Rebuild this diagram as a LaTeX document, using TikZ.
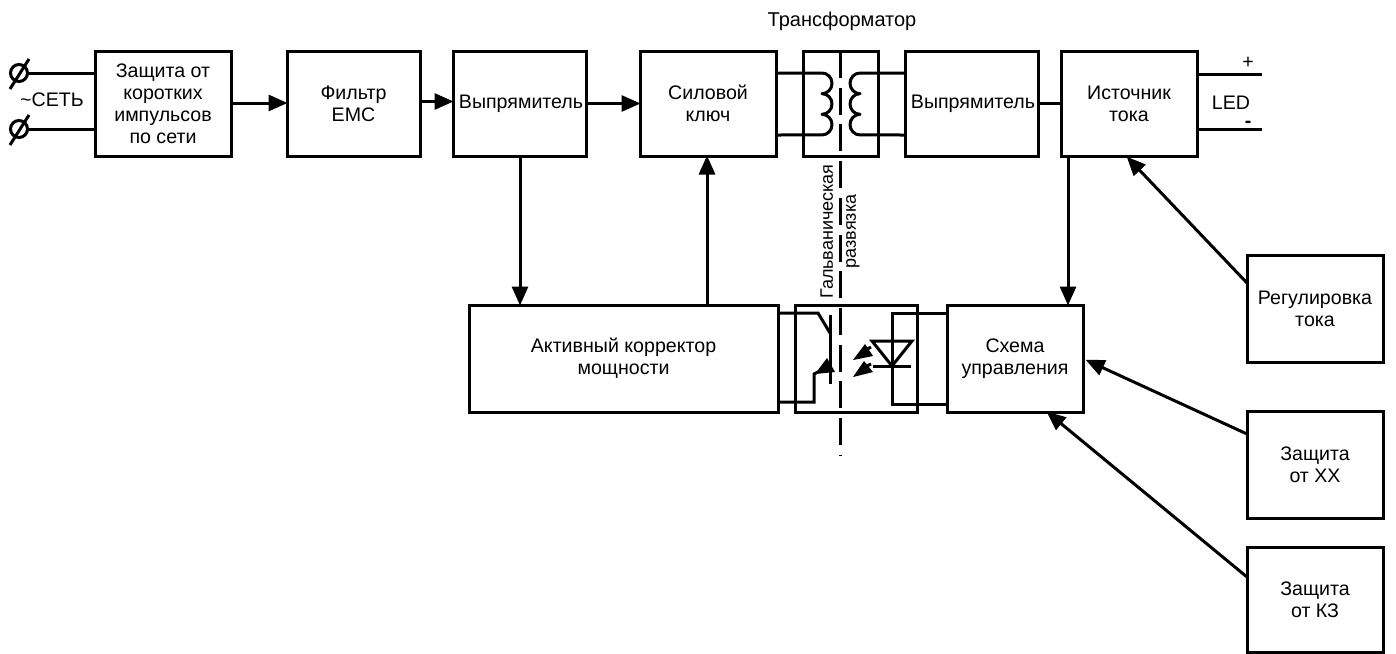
\documentclass[tikz,border=0pt]{standalone}
\usepackage{fontspec}
\setmainfont{Liberation Sans}
\usetikzlibrary{arrows.meta,calc}
\tikzset{
  x=1pt,y=-1pt,
  wire/.style={line width=3pt,line cap=butt},
  arr/.style={wire,-{Triangle[length=19pt,width=16pt]},shorten >=-0.5pt},
  box/.style={draw,line width=3pt,outer sep=0pt,inner sep=0pt,align=center,
     font=\fontsize{19.6}{22}\selectfont},
  lbl/.style={inner sep=0pt,outer sep=0pt,font=\fontsize{19.6}{22}\selectfont,align=center},
  solid fill/.style={fill=black,draw=none}
}
\newcommand{\bx}[7]{\node[box,minimum width=#3-#2,minimum height=#5-#4] (#1) at ({(#2+#3)/2},{(#4+#5)/2}) {#6};}
\begin{document}
\begin{tikzpicture}
\useasboundingbox (0,0) rectangle (1396,653);
\bx{prot}{95}{231}{51}{156}{Защита от\\коротких\\импульсов\\по сети}{}
\bx{emc}{287}{420}{51}{156}{Фильтр\\EMC}{}
\bx{rect}{453}{586}{51}{156}{\hspace*{3pt}Выпрямитель}{}
\bx{sw}{640}{776}{51}{156}{Силовой\\ключ}{}
\bx{tr}{803}{878}{51}{156}{}{}
\bx{rectb}{905}{1038}{51}{156}{\hspace*{3pt}Выпрямитель}{}
\bx{src}{1061}{1197}{51}{156}{Источник\\тока}{}
\bx{pfc}{469}{778}{305}{412}{Активный корректор\\мощности}{}
\bx{opto}{795}{917}{305}{412}{}{}
\bx{ctl}{947}{1083}{305}{412}{Схема\\управления}{}
\bx{reg}{1247}{1383}{255}{362}{Регулировка\\тока}{}
\bx{xx}{1247}{1383}{411}{518}{Защита\\от ХХ}{}
\bx{kz}{1247}{1383}{547}{652}{Защита\\от КЗ}{}

% mains terminals
\node[draw,circle,line width=3pt,minimum size=17pt,inner sep=0pt,outer sep=0pt] (ta) at (19,73) {};
\node[draw,circle,line width=3pt,minimum size=17pt,inner sep=0pt,outer sep=0pt] (tb) at (19,129) {};
\draw[wire] (10,89) -- (29,59);
\draw[wire] (10,145) -- (29,115);
\draw[wire] (ta.east) -- (ta.east -| prot.west);
\draw[wire] (tb.east) -- (tb.east -| prot.west);
\node[lbl] (mains) at (52,100) {\char"007E СЕТЬ};

% main chain
\draw[arr] ([yshift=0.5pt]prot.east) -- ([yshift=0.5pt]emc.west);
\draw[arr] ([yshift=2pt]emc.east) -- ([yshift=2pt]rect.west);
\draw[arr] (rect.east) -- (sw.west);
\draw[wire] (rectb.east) -- (src.west);
\draw[arr] (rect.south -| 520,0) -- (pfc.north -| 520,0);
\draw[arr] (pfc.north -| 707,0) -- (sw.south -| 707,0);
\draw[arr] (src.south -| 1068,0) -- (ctl.north -| 1068,0);
\draw[arr] ($(reg.north west)+(0,28)$) -- ($(src.south west)+(66,1)$);
\draw[arr] ($(xx.north west)+(0,23)$) -- ($(ctl.north east)+(3,55)$);
\draw[arr] ($(kz.north west)+(0,30)$) -- ($(ctl.south west)+(100,0)$);

% transformer
\draw[wire,line join=round] (sw.east |- 0,73) -- (822,73)
  arc[start angle=90,end angle=-90,x radius=10,y radius=-10.33]
  arc[start angle=90,end angle=-90,x radius=10,y radius=-10.33]
  arc[start angle=90,end angle=-90,x radius=10,y radius=-10.33]
  -- (sw.east |- 0,135);
\draw[wire,line join=round] (rectb.west |- 0,73) -- (860,73)
  arc[start angle=90,end angle=270,x radius=10,y radius=-10.33]
  arc[start angle=90,end angle=270,x radius=10,y radius=-10.33]
  arc[start angle=90,end angle=270,x radius=10,y radius=-10.33]
  -- (rectb.west |- 0,135);
\node[lbl,font=\fontsize{20}{22}\selectfont] (trname) at (842,21) {Трансформатор};

% isolation barrier
\coordinate (ba) at (840,51);
\coordinate (bb) at (840,456);
\draw[line width=3pt,dash pattern=on 27pt off 9.7pt] (ba) -- (bb);
\node[lbl,rotate=90,font=\fontsize{18}{23}\selectfont] (iso) at (840,231.5) {Гальваническая\\развязка};

% optocoupler: transistor side
\draw[wire] (pfc.east |- 0,313) -- (818,313) -- (830,333);
\draw[wire] (830,315) -- (830,384);
\draw[wire] (pfc.east |- 0,402) -- (814,402) -- (814,374) -- (830,366);
\fill[solid fill] (815,374) -- (827,358) -- (835,372) -- cycle;
% optocoupler: LED side
\draw[wire] (ctl.west |- 0,313) -- (892,313) -- (892,404) -- (ctl.west |- 0,404);
\draw[wire,line join=miter] (872,341) -- (912,341) -- (892,366) -- cycle;
\draw[wire] (873,366) -- (911,366);
\fill[solid fill] (853,360) -- (865,344) -- (873,356) -- cycle;
\fill[solid fill] (853,377) -- (864,361) -- (873,372) -- cycle;
\draw[wire] (864,351) -- (871,347);
\draw[wire] (863,368) -- (871,364);

% outputs
\coordinate (oa) at (1262,74);
\coordinate (ob) at (1262,129);
\draw[wire] (src.east |- oa) -- (oa);
\draw[wire] (src.east |- ob) -- (ob);
\node[lbl] (plus) at (1248,63) {+};
\node[lbl,font=\bfseries\fontsize{19.6}{22}\selectfont] (minus) at (1248,124) {-};
\node[lbl] (led) at (1231,103) {LED};
\end{tikzpicture}
\end{document}
